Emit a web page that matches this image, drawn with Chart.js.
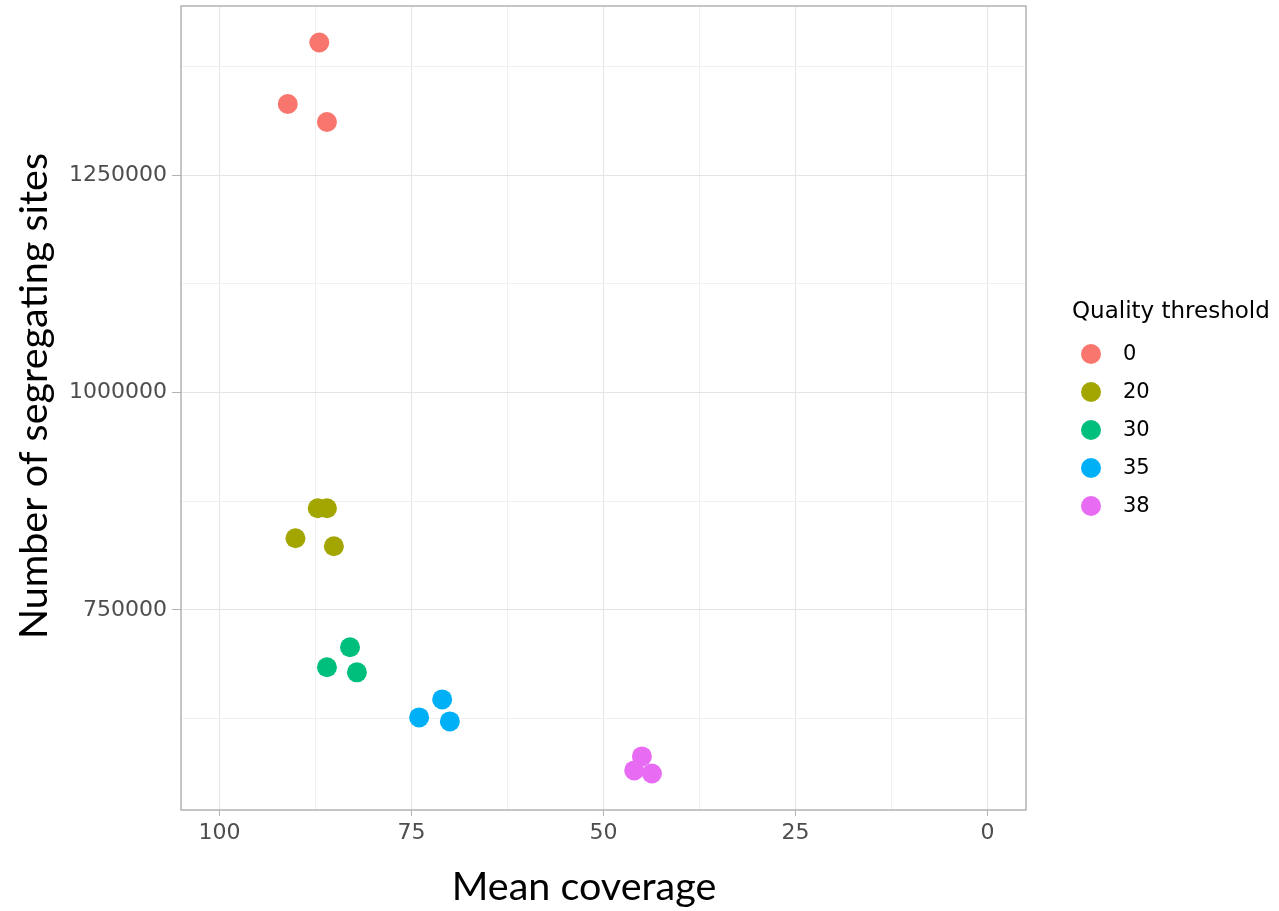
<!DOCTYPE html>
<html>
<head>
<meta charset="utf-8">
<script src="https://cdn.jsdelivr.net/npm/chart.js@4.4.1/dist/chart.umd.min.js"></script>
<style>
html, body { margin: 0; padding: 0; background: #fff; }
</style>
</head>
<body>
<canvas id="scatter" width="1279" height="911"></canvas>
<script>
// quality thresholds and their ggplot hue colours
const thresholds = ['0', '20', '30', '35', '38'];
const colours = ['#F8766D', '#A3A500', '#00BF7D', '#00B0F6', '#E76BF3'];

// mean coverage per sample, one list per threshold
const coverage = [
    [87.0, 91.1, 86.0],
    [87.2, 86.0, 90.1, 85.1],
    [83.0, 86.0, 82.1],
    [71.0, 74.0, 70.0],
    [45.0, 46.0, 43.7]
];
// number of segregating sites, same order
const segSites = [
    [1402400, 1331700, 1311000],
    [866900, 866900, 832400, 823200],
    [707000, 684000, 678200],
    [647100, 626400, 621800],
    [581500, 565400, 561900]
];

// labelled ticks, and all grid positions (minor lines halfway between)
const xLabels = [100, 75, 50, 25, 0];
const xGrid = [100, 87.5, 75, 62.5, 50, 37.5, 25, 12.5, 0];
const yLabels = [750000, 1000000, 1250000];
const yGrid = [625000, 750000, 875000, 1000000, 1125000, 1250000, 1375000];

const xTitle = 'Mean coverage';
const yTitle = 'Number of segregating sites';
const legendTitle = 'Quality threshold';

const datasets = thresholds.map((t, i) => ({
    label: t,
    data: coverage[i].map((c, j) => ({ x: c, y: segSites[i][j] })),
    backgroundColor: colours[i],
    borderWidth: 0,
    pointRadius: 10,
    pointHoverRadius: 10
}));

const isMajorX = v => xLabels.includes(v);
const isMajorY = v => yLabels.includes(v);

// panel border, axis titles (placed a bit off-centre like the figure) and legend
const panelPlugin = {
    id: 'panel',
    afterDraw(chart) {
        const { ctx, chartArea: a } = chart;
        ctx.save();
        ctx.strokeStyle = '#b3b3b3';
        ctx.lineWidth = 1.5;
        ctx.strokeRect(a.left, a.top, a.right - a.left, a.bottom - a.top);

        // axis titles
        ctx.fillStyle = '#000';
        ctx.font = '39.5px Lato';
        ctx.textAlign = 'center';
        ctx.textBaseline = 'middle';
        ctx.fillText(xTitle, 584, 887);
        ctx.save();
        ctx.translate(34, 396);
        ctx.rotate(-Math.PI / 2);
        ctx.fillText(yTitle, 0, 0);
        ctx.restore();

        // legend
        ctx.font = '23px "DejaVu Sans"';
        ctx.textAlign = 'left';
        ctx.textBaseline = 'alphabetic';
        ctx.fillText(legendTitle, 1072, 318);
        ctx.font = '21px "DejaVu Sans"';
        ctx.textBaseline = 'middle';
        chart.data.datasets.forEach((ds, i) => {
            const y = 354 + i * 38;
            ctx.beginPath();
            ctx.arc(1091, y, 10, 0, Math.PI * 2);
            ctx.fillStyle = ds.backgroundColor;
            ctx.fill();
            ctx.fillStyle = '#000';
            ctx.fillText(ds.label, 1123, y + 1);
        });
        ctx.restore();
    }
};

const ctx = document.getElementById('scatter');
const scatterChart = new Chart(ctx, {
    type: 'scatter',
    data: { datasets: datasets },
    plugins: [panelPlugin],
    options: {
        responsive: false,
        animation: false,
        layout: {
            autoPadding: false,
            padding: { left: 0, right: 253, top: 6, bottom: 0 }
        },
        plugins: {
            legend: { display: false },
            tooltip: { enabled: false }
        },
        scales: {
            x: {
                type: 'linear',
                reverse: true,
                min: -5,
                max: 105,
                afterBuildTicks: scale => { scale.ticks = xGrid.map(v => ({ value: v })); },
                afterFit: scale => {
                    scale.height = 101;
                    scale.paddingLeft = 0;
                    scale.paddingRight = 0;
                },
                border: { display: false },
                grid: {
                    color: ctx => isMajorX(ctx.tick.value) ? '#e4e4e4' : '#f0f0f0',
                    tickColor: ctx => isMajorX(ctx.tick.value) ? '#b3b3b3' : 'rgba(0,0,0,0)',
                    tickLength: 6,
                    lineWidth: 1
                },
                ticks: {
                    autoSkip: false,
                    maxRotation: 0,
                    padding: 4,
                    color: '#4d4d4d',
                    font: { family: '"DejaVu Sans"', size: 22 },
                    callback: v => isMajorX(v) ? String(v) : ''
                },
                title: { display: false, text: xTitle }
            },
            y: {
                type: 'linear',
                min: 519900,
                max: 1444430,
                afterBuildTicks: scale => { scale.ticks = yGrid.map(v => ({ value: v })); },
                afterFit: scale => {
                    scale.width = 181;
                    scale.paddingTop = 0;
                    scale.paddingBottom = 0;
                },
                border: { display: false },
                grid: {
                    color: ctx => isMajorY(ctx.tick.value) ? '#e4e4e4' : '#f0f0f0',
                    tickColor: ctx => isMajorY(ctx.tick.value) ? '#b3b3b3' : 'rgba(0,0,0,0)',
                    tickLength: 9,
                    lineWidth: 1
                },
                ticks: {
                    autoSkip: false,
                    padding: 5,
                    color: '#4d4d4d',
                    font: { family: '"DejaVu Sans"', size: 22 },
                    callback: v => isMajorY(v) ? String(v) : ''
                },
                title: { display: false, text: yTitle }
            }
        }
    }
});
</script>
</body>
</html>
